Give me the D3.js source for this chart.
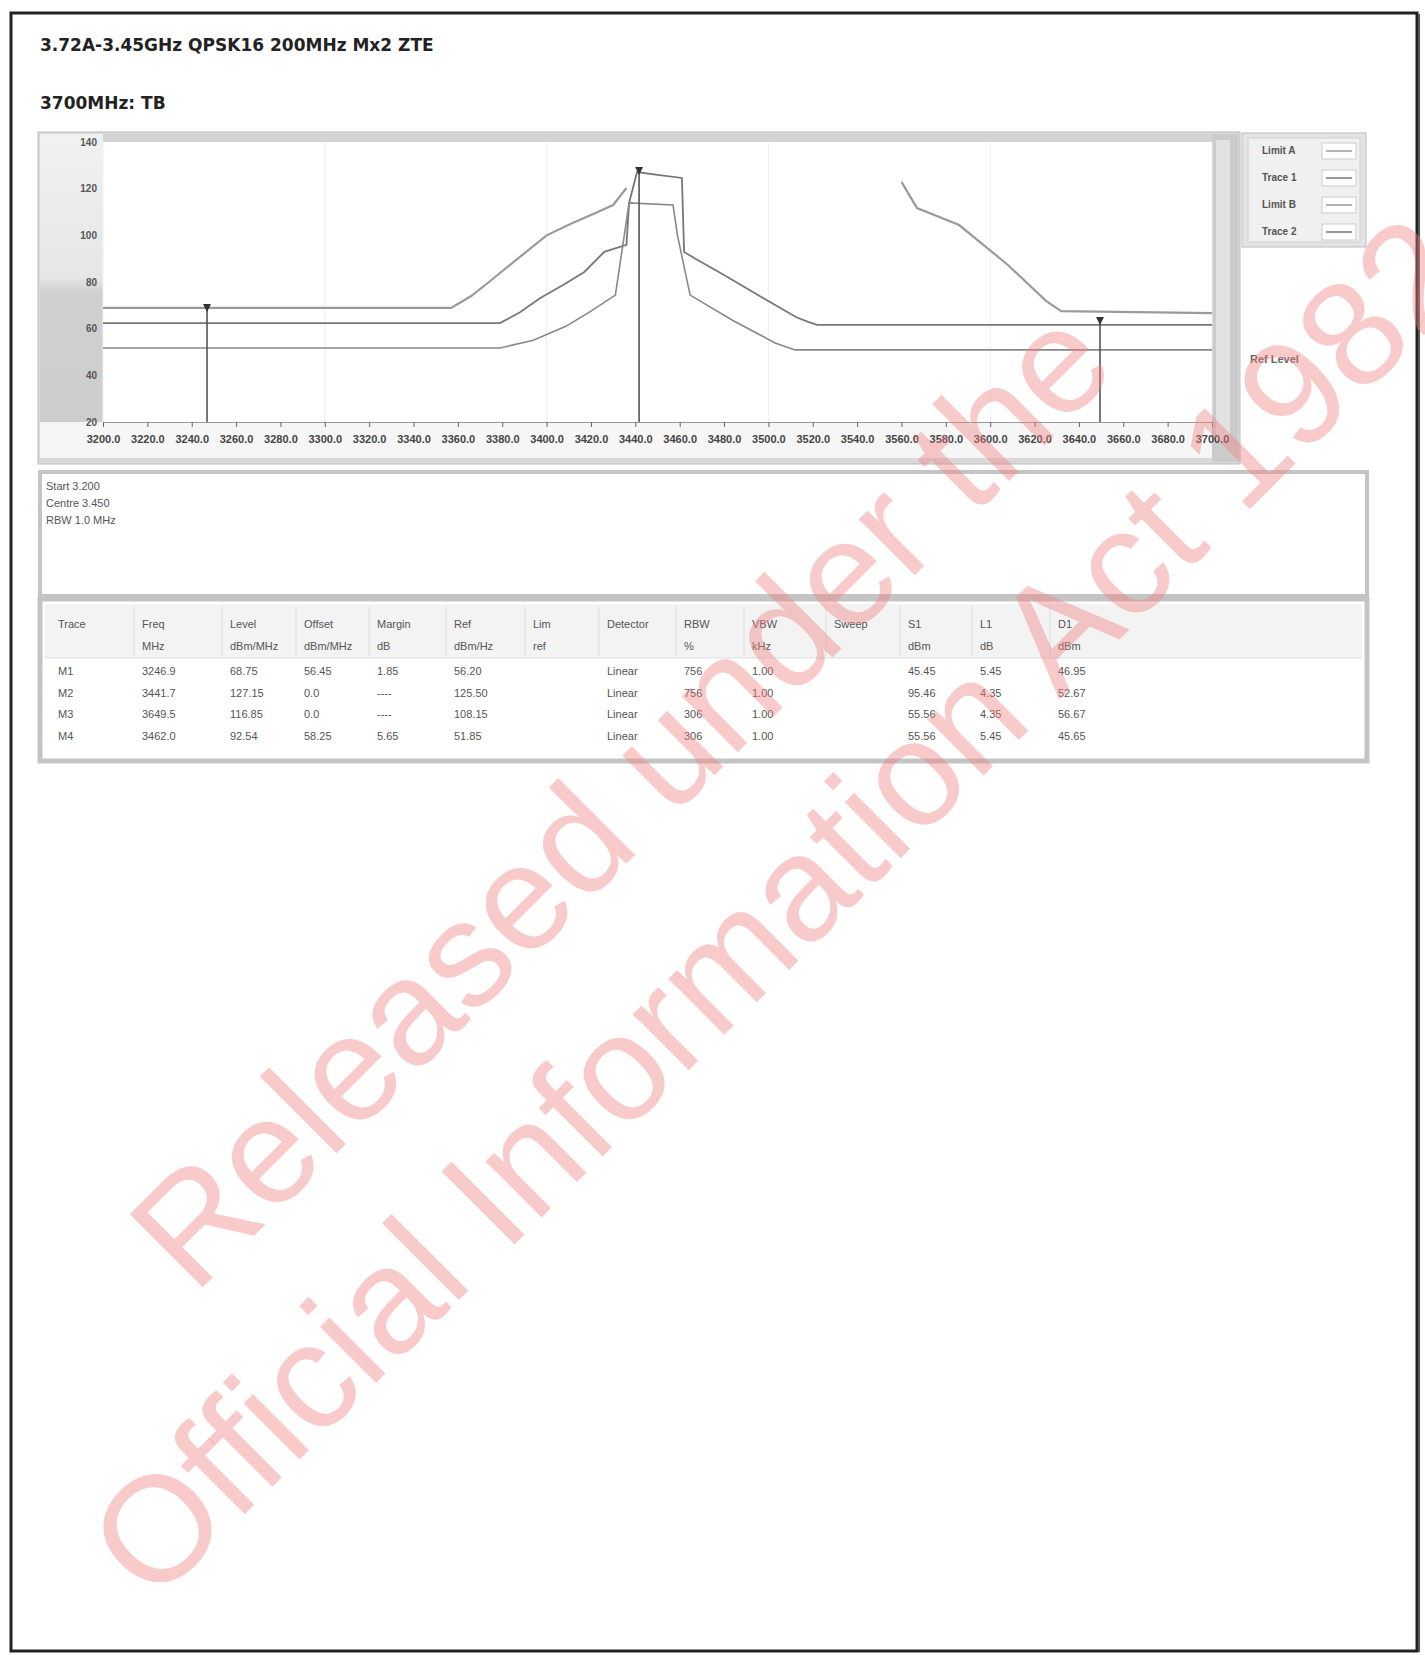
<!DOCTYPE html>
<html><head><meta charset="utf-8">
<script src="https://cdn.jsdelivr.net/npm/d3@7"></script>
<style>body{margin:0;background:#fff}</style>
</head><body>
<svg id="c" width="1425" height="1655"></svg>
<script>
// ---------------- data ----------------
const titleLines = ["3.72A-3.45GHz QPSK16 200MHz Mx2 ZTE", "3700MHz: TB"];
const yTickValues = [140, 120, 100, 80, 60, 40, 20];
const xTickValues = [3200,3220,3240,3260,3280,3300,3320,3340,3360,3380,3400,3420,3440,3460,3480,3500,3520,3540,3560,3580,3600,3620,3640,3660,3680,3700];
const xTickLabels = ["3200.0","3220.0","3240.0","3260.0","3280.0","3300.0","3320.0","3340.0","3360.0","3380.0","3400.0","3420.0","3440.0","3460.0","3480.0","3500.0","3520.0","3540.0","3560.0","3580.0","3600.0","3620.0","3640.0","3660.0","3680.0","3700.0"];

// limit mask (two segments, null = gap)
const limitMask = [[3200,68.9],[3357,68.9],[3366,74],[3374,80],[3387,90],[3400,100],[3411,105],[3422,109.6],[3430,113],[3436,120.3],[3437,null],
                   [3560,122.9],[3567,111.7],[3586,104.4],[3608,87.3],[3625,72],[3632,67.5],[3700,66.7]];
// measured trace (upper)
const traceMax = [[3200,62.4],[3379,62.4],[3388,67],[3397,73],[3408,79],[3417,84.3],[3426,92.9],[3436,95.9],[3437.2,114],[3440.8,127.1],[3450,125.9],[3461,124.6],[3462,92.9],[3466.5,90.3],[3480,83],[3497.6,73.1],[3512.4,65],[3517.9,62.9],[3522,61.6],[3700,61.6]];
// measured trace (lower)
const traceAvg = [[3200,51.7],[3379,51.7],[3394,55],[3408.7,61],[3420,67.5],[3431,74.4],[3437.2,113.9],[3457,113],[3459,100],[3464.7,74.4],[3484,63.5],[3503,53.9],[3512,50.9],[3700,50.9]];

const markers = [
  {name:"M1", f:3246.9, v:68.4},
  {name:"M2", f:3441.7, v:127.1},
  {name:"M3", f:3649.5, v:62.9}
];

const legendNames = ["Limit A", "Trace 1", "Limit B", "Trace 2"];
const refLabel = "Ref Level";
const infoLines = ["Start 3.200", "Centre 3.450", "RBW 1.0 MHz"];
const tableHead1 = ["Trace","Freq","Level","Offset","Margin","Ref","Lim","Detector","RBW","VBW","Sweep","S1","L1","D1"];
const tableHead2 = ["","MHz","dBm/MHz","dBm/MHz","dB","dBm/Hz","ref","","%","kHz","","dBm","dB","dBm"];
const tableRows = [
  ["M1","3246.9","68.75","56.45","1.85","56.20","","Linear","756","1.00","","45.45","5.45","46.95"],
  ["M2","3441.7","127.15","0.0","----","125.50","","Linear","756","1.00","","95.46","4.35","52.67"],
  ["M3","3649.5","116.85","0.0","----","108.15","","Linear","306","1.00","","55.56","4.35","56.67"],
  ["M4","3462.0","92.54","58.25","5.65","51.85","","Linear","306","1.00","","55.56","5.45","45.65"]
];
const watermark = ["Released under the", "Official Information Act 1982"];

// ---------------- drawing ----------------
const svg = d3.select("#c");
const font = "'Liberation Sans', Arial, sans-serif";

// page border
svg.append("rect").attr("x",11).attr("y",13).attr("width",1406).attr("height",1638)
  .attr("fill","#fff").attr("stroke","#222").attr("stroke-width",3);
svg.append("line").attr("x1",1419).attr("x2",1419).attr("y1",14).attr("y2",1652).attr("stroke","#555").attr("stroke-width",2);

// titles
svg.append("text").attr("x",40).attr("y",51).text(titleLines[0])
  .attr("font-family","'DejaVu Sans', sans-serif").attr("font-weight","bold").attr("font-size",17).attr("fill","#222");
svg.append("text").attr("x",40).attr("y",109).text(titleLines[1])
  .attr("font-family","'DejaVu Sans', sans-serif").attr("font-weight","bold").attr("font-size",17).attr("fill","#222");

// chart panel
const P = {x0:103, x1:1212, y0:142, y1:422};
svg.append("rect").attr("x",38).attr("y",132).attr("width",1202).attr("height",332)
  .attr("fill","#d9d9d9").attr("stroke","#bdbdbd");
const defs = svg.append("defs");
const g1 = defs.append("linearGradient").attr("id","ystrip").attr("x1",0).attr("y1",0).attr("x2",0).attr("y2",1);
g1.append("stop").attr("offset","0").attr("stop-color","#f1f1f1");
g1.append("stop").attr("offset","0.5").attr("stop-color","#e6e6e6");
g1.append("stop").attr("offset","0.55").attr("stop-color","#d0d0d0");
g1.append("stop").attr("offset","1").attr("stop-color","#cdcdcd");
svg.append("rect").attr("x",40).attr("y",134).attr("width",P.x0-40).attr("height",P.y1-134).attr("fill","url(#ystrip)");
svg.append("rect").attr("x",P.x0).attr("y",134).attr("width",P.x1-P.x0).attr("height",8).attr("fill","#d4d4d4");
svg.append("rect").attr("x",P.x0).attr("y",P.y0).attr("width",P.x1-P.x0).attr("height",P.y1-P.y0).attr("fill","#fff");
svg.append("rect").attr("x",40).attr("y",P.y1).attr("width",P.x1-40).attr("height",36).attr("fill","#f6f6f6");
svg.append("rect").attr("x",P.x1).attr("y",134).attr("width",26).attr("height",328).attr("fill","#cbcbcb");
svg.append("rect").attr("x",P.x1+4).attr("y",140).attr("width",14).attr("height",300).attr("fill","#e2e2e2");

const xs = d3.scaleLinear().domain([3200,3700]).range([P.x0,P.x1]);
const ys = d3.scaleLinear().domain([20,140]).range([P.y1,P.y0]);

// faint grid
const grid = svg.append("g");
grid.selectAll("line.v").data(xTickValues.filter((d,i)=>i%5===0)).join("line")
  .attr("x1",d=>xs(d)).attr("x2",d=>xs(d)).attr("y1",P.y0).attr("y2",P.y1)
  .attr("stroke","#f1f1f1").attr("stroke-width",1);

// axes
const yAxis = svg.append("g").attr("transform",`translate(${P.x0-6},0)`)
  .call(d3.axisLeft(ys).tickValues(yTickValues).tickSize(0).tickPadding(0));
yAxis.select(".domain").remove();
yAxis.selectAll("text").attr("font-family",font).attr("font-size",10).attr("font-weight","bold").attr("fill","#555");

const xAxis = svg.append("g").attr("transform",`translate(0,${P.y1})`)
  .call(d3.axisBottom(xs).tickValues(xTickValues).tickFormat((d,i)=>xTickLabels[i]).tickSize(5).tickPadding(8));
xAxis.select(".domain").attr("stroke","#999");
xAxis.selectAll("line").attr("stroke","#666");
xAxis.selectAll("text").attr("font-family",font).attr("font-size",11).attr("font-weight","bold").attr("fill","#444");

// traces
const line = d3.line().defined(d=>d[1]!==null).x(d=>xs(d[0])).y(d=>ys(d[1]));
svg.append("path").datum(limitMask).attr("d",line).attr("fill","none").attr("stroke","#9a9a9a").attr("stroke-width",2.2);
svg.append("path").datum(traceMax).attr("d",line).attr("fill","none").attr("stroke","#777").attr("stroke-width",1.8);
svg.append("path").datum(traceAvg).attr("d",line).attr("fill","none").attr("stroke","#888").attr("stroke-width",1.6);

// markers
const mk = svg.append("g");
mk.selectAll("line").data(markers).join("line")
  .attr("x1",d=>xs(d.f)).attr("x2",d=>xs(d.f)).attr("y1",d=>ys(d.v)).attr("y2",P.y1)
  .attr("stroke","#555").attr("stroke-width",1.6);
mk.selectAll("path").data(markers).join("path")
  .attr("d",d=>{const x=xs(d.f), y=ys(d.v); return `M${x-4},${y-5}L${x+4},${y-5}L${x},${y+3}Z`;})
  .attr("fill","#333");

// legend
const L = svg.append("g");
L.append("rect").attr("x",1242).attr("y",133).attr("width",124).attr("height",114).attr("fill","#e4e4e4").attr("stroke","#bbb");
L.append("rect").attr("x",1248).attr("y",138).attr("width",112).attr("height",104).attr("fill","#f0f0f0").attr("stroke","#cfcfcf");
legendNames.forEach((n,i)=>{
  const y = 150 + i*27;
  L.append("text").attr("x",1262).attr("y",y+4).text(n).attr("font-family",font).attr("font-size",10).attr("font-weight","bold").attr("fill","#555");
  L.append("rect").attr("x",1322).attr("y",y-7).attr("width",34).attr("height",16).attr("fill","#fff").attr("stroke","#ccc");
  L.append("line").attr("x1",1326).attr("x2",1352).attr("y1",y+1).attr("y2",y+1).attr("stroke",i%2?"#777":"#9a9a9a").attr("stroke-width",1.5);
});
svg.append("text").attr("x",1250).attr("y",363).text(refLabel).attr("font-family",font)
  .attr("font-size",11).attr("font-weight","bold").attr("fill","#666");

// info panel
svg.append("rect").attr("x",40).attr("y",472).attr("width",1327).attr("height",124).attr("fill","#fff").attr("stroke","#c4c4c4").attr("stroke-width",4);
infoLines.forEach((t,i)=>svg.append("text").attr("x",46).attr("y",490+i*17).text(t)
  .attr("font-family",font).attr("font-size",11).attr("fill","#555"));

// table panel
svg.append("rect").attr("x",40).attr("y",599).attr("width",1327).attr("height",162).attr("fill","#fff").attr("stroke","#c4c4c4").attr("stroke-width",5);
svg.append("rect").attr("x",45).attr("y",604).attr("width",1317).attr("height",54).attr("fill","#f3f3f3");
const colX = [58,142,230,304,377,454,533,607,684,752,834,908,980,1058];
colX.forEach((x,i)=>{ if(i>0) svg.append("line").attr("x1",x-8).attr("x2",x-8).attr("y1",606).attr("y2",656).attr("stroke","#ddd"); });
svg.append("line").attr("x1",45).attr("x2",1362).attr("y1",658).attr("y2",658).attr("stroke","#ddd");
const T = svg.append("g").attr("font-family",font).attr("font-size",11).attr("fill","#555");
tableHead1.forEach((t,i)=>T.append("text").attr("x",colX[i]).attr("y",628).text(t));
tableHead2.forEach((t,i)=>T.append("text").attr("x",colX[i]).attr("y",650).text(t));
tableRows.forEach((r,j)=>r.forEach((t,i)=>T.append("text").attr("x",colX[i]).attr("y",675+j*21.5).text(t)));

// watermark
const W = svg.append("g").attr("font-family",font).attr("font-size",150).attr("fill","#f08080").attr("fill-opacity",0.42);
W.append("text").attr("transform","translate(194,1296) rotate(-45)").text(watermark[0]);
W.append("text").attr("transform","translate(153,1606) rotate(-45)").text(watermark[1]);
</script>
</body></html>
